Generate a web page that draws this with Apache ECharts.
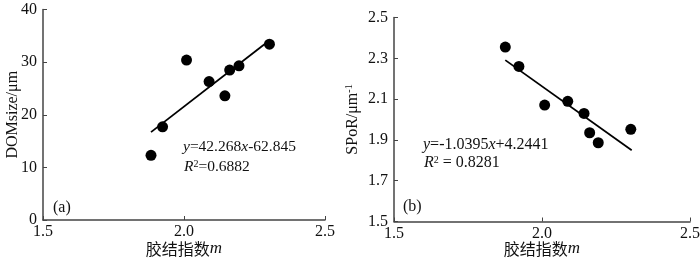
<!DOCTYPE html>
<html>
<head>
<meta charset="utf-8">
<script src="https://cdn.jsdelivr.net/npm/echarts@6/dist/echarts.min.js"></script>
<style>
html,body{margin:0;padding:0;background:#fff;}
#main{width:700px;height:260px;}
</style>
</head>
<body>
<div id="main"></div>
<script>
// (a) DOMsize vs m
var ptsA = [[1.883,12.3],[1.924,17.7],[2.009,30.4],[2.089,26.3],[2.145,23.6],[2.162,28.5],[2.195,29.3],[2.303,33.4]];
var fitA = [[1.883,16.7],[2.290,33.6]];
// (b) SPoR vs m
var ptsB = [[1.876,2.355],[1.922,2.260],[2.009,2.071],[2.087,2.089],[2.142,2.030],[2.161,1.935],[2.190,1.886],[2.300,1.952]];
var fitB = [[1.876,2.291],[2.303,1.849]];

var fontF = '"Liberation Serif","Times New Roman",serif';
var cjkF = '"Noto Sans CJK SC",serif';
var axisCol = '#444';
var txtCol = '#111';

function xAxisOpt(idx, gap){
    return {
        type:'value', gridIndex:idx, min:1.5, max:2.5, interval:0.5,
        name:'{c|胶结指数}{i|m}', nameLocation:'middle', nameGap:gap, nameMoveOverlap:false,
        nameTextStyle:{rich:{c:{fontFamily:cjkF,fontSize:16,color:txtCol},i:{fontFamily:fontF,fontStyle:'italic',fontSize:17,color:txtCol}}},
        axisLine:{lineStyle:{color:axisCol,width:1.5}},
        axisTick:{inside:true,length:4,lineStyle:{color:axisCol}},
        axisLabel:{fontFamily:fontF,fontSize:16,color:txtCol,margin:4,
            formatter:function(v){return v.toFixed(1);}},
        splitLine:{show:false}
    };
}

var option = {
    animation:false,
    grid:[
        {left:43,top:9.5,width:282,height:210.5,outerBoundsMode:'none',containLabel:false},
        {left:394,top:17.5,width:296,height:204,outerBoundsMode:'none',containLabel:false}
    ],
    xAxis:[xAxisOpt(0,20),xAxisOpt(1,19)],
    yAxis:[
        {
            type:'value', gridIndex:0, min:0, max:40, interval:10,
            name:'DOMsize/μm', nameLocation:'middle', nameGap:22, nameMoveOverlap:false,
            nameTextStyle:{fontFamily:fontF,fontSize:16,color:txtCol},
            axisLine:{lineStyle:{color:axisCol,width:1.5}},
            axisTick:{inside:true,length:4,lineStyle:{color:axisCol}},
            axisLabel:{fontFamily:fontF,fontSize:16,color:txtCol,margin:6},
            splitLine:{show:false}
        },
        {
            type:'value', gridIndex:1, min:1.5, max:2.5, interval:0.2,
            name:'{t|SPoR/μm}{s|-1}', nameLocation:'middle', nameGap:32, nameMoveOverlap:false,
            nameTextStyle:{rich:{t:{fontFamily:fontF,fontSize:16,color:txtCol},s:{fontFamily:fontF,fontSize:10,color:txtCol,verticalAlign:'top',padding:[0,0,8,0]}}},
            axisLine:{lineStyle:{color:axisCol,width:1.5}},
            axisTick:{inside:true,length:4,lineStyle:{color:axisCol}},
            axisLabel:{fontFamily:fontF,fontSize:16,color:txtCol,margin:6,
                formatter:function(v){return v.toFixed(1);}},
            splitLine:{show:false}
        }
    ],
    series:[
        {type:'line',xAxisIndex:0,yAxisIndex:0,data:fitA,symbol:'none',lineStyle:{color:'#000',width:1.8},z:1},
        {type:'scatter',xAxisIndex:0,yAxisIndex:0,data:ptsA,symbolSize:11,itemStyle:{color:'#000',opacity:1},z:2},
        {type:'line',xAxisIndex:1,yAxisIndex:1,data:fitB,symbol:'none',lineStyle:{color:'#000',width:1.8},z:1},
        {type:'scatter',xAxisIndex:1,yAxisIndex:1,data:ptsB,symbolSize:11,itemStyle:{color:'#000',opacity:1},z:2}
    ],
    graphic:[
        {type:'text',left:183,top:139,style:{text:'{i|y}{n|=42.268}{i|x}{n|-62.845}',rich:{i:{fontFamily:fontF,fontStyle:'italic',fontSize:15.5,fill:txtCol},n:{fontFamily:fontF,fontSize:15.5,fill:txtCol}}}},
        {type:'text',left:184,top:159,style:{text:'{i|R}{s|2}{n|=0.6882}',rich:{i:{fontFamily:fontF,fontStyle:'italic',fontSize:15.5,fill:txtCol},s:{fontFamily:fontF,fontSize:10,fill:txtCol,verticalAlign:'top',padding:[0,0,6,0]},n:{fontFamily:fontF,fontSize:15.5,fill:txtCol}}}},
        {type:'text',left:53,top:200,style:{text:'(a)',fontFamily:fontF,fontSize:16,fill:txtCol}},
        {type:'text',left:423,top:137,style:{text:'{i|y}{n|=-1.0395}{i|x}{n|+4.2441}',rich:{i:{fontFamily:fontF,fontStyle:'italic',fontSize:16,fill:txtCol},n:{fontFamily:fontF,fontSize:16,fill:txtCol}}}},
        {type:'text',left:424,top:155,style:{text:'{i|R}{s|2}{n| = 0.8281}',rich:{i:{fontFamily:fontF,fontStyle:'italic',fontSize:16,fill:txtCol},s:{fontFamily:fontF,fontSize:10,fill:txtCol,verticalAlign:'top',padding:[0,0,6,0]},n:{fontFamily:fontF,fontSize:16,fill:txtCol}}}},
        {type:'text',left:403,top:199,style:{text:'(b)',fontFamily:fontF,fontSize:16,fill:txtCol}}
    ]
};

var myChart = echarts.init(document.getElementById('main'));
myChart.setOption(option);
</script>
</body>
</html>
